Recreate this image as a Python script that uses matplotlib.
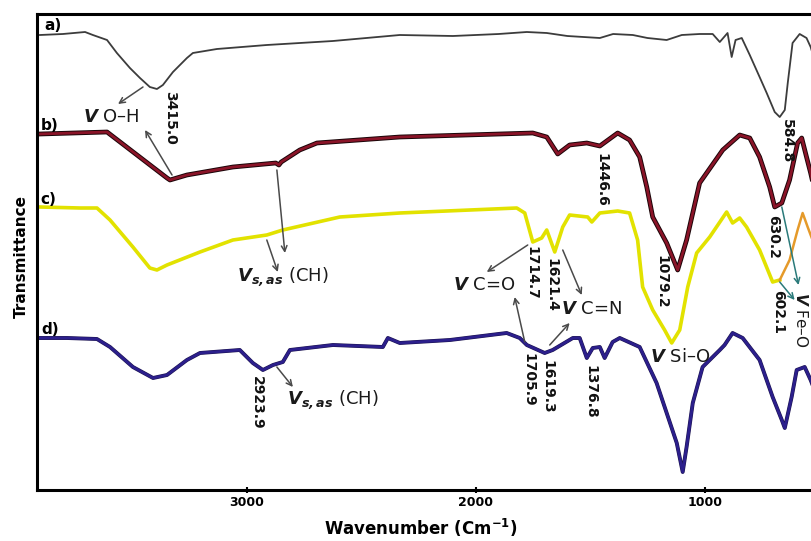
import matplotlib
matplotlib.use("Agg")
import matplotlib.pyplot as plt
import matplotlib.patheffects as pe

plt.rcParams['mathtext.fontset'] = 'dejavusans'

# FTIR spectra, wavenumber (cm-1) vs transmittance (a.u., stacked)
wn_a = [3904, 3804, 3707, 3673, 3611, 3568, 3511, 3467, 3424, 3393, 3367, 3323, 3262, 3236,
        3131, 2913, 2624, 2332, 2100, 1900, 1777, 1690, 1600, 1458, 1400, 1314, 1250, 1166,
        1100, 1022, 965, 934, 900, 882, 865, 838, 803, 760, 729, 694, 672, 650, 637, 616,
        585, 555, 537, 520]
t_a = [455, 456, 458, 455, 450, 437, 422, 412, 403, 401, 405, 418, 432, 437,
       441, 445, 449, 455, 454, 456, 458, 457, 454, 452, 456, 455, 452, 450,
       455, 456, 456, 448, 457, 433, 450, 452, 435, 413, 397, 378, 373, 380, 407, 447,
       456, 452, 443, 430]

wn_b = [3904, 3611, 3349, 3336, 3262, 3061, 2874, 2860, 2850, 2769, 2694, 2332, 1751, 1690,
        1642, 1590, 1515, 1458, 1380, 1328, 1284, 1253, 1227, 1166, 1118, 1079, 1022, 921,
        847, 803, 760, 716, 694, 663, 629, 594, 576, 555, 537, 520]
t_b = [356, 358, 312, 310, 315, 323, 327, 325, 328, 340, 347, 353, 357, 353,
       336, 345, 347, 344, 357, 350, 333, 303, 273, 247, 220, 250, 307, 340,
       355, 352, 333, 303, 283, 287, 310, 347, 352, 333, 317, 300]

wn_c = [3904, 3729, 3655, 3598, 3498, 3424, 3393, 3349, 3205, 3061, 2913, 2843, 2594, 2332,
        1821, 1786, 1751, 1712, 1690, 1655, 1620, 1590, 1511, 1493, 1458, 1380, 1328, 1293,
        1271, 1227, 1175, 1144, 1109, 1074, 1035, 978, 904, 878, 847, 817, 760, 703, 672]
t_c = [283, 282, 282, 270, 243, 222, 220, 225, 238, 250, 255, 260, 273, 277,
       282, 277, 248, 252, 260, 238, 263, 275, 273, 268, 277, 279, 277, 250,
       203, 180, 160, 147, 160, 203, 237, 253, 278, 267, 272, 263, 240, 208, 210]
# orange tail of trace c
wn_c2 = [672, 629, 594, 572, 550, 537, 520]
t_c2 = [210, 230, 260, 277, 263, 255, 245]

wn_d = [3904, 3786, 3655, 3598, 3498, 3410, 3349, 3262, 3205, 3031, 2974, 2930, 2886, 2843,
        2812, 2624, 2406, 2384, 2332, 2113, 1865, 1808, 1777, 1699, 1664, 1576, 1546, 1515,
        1489, 1458, 1437, 1402, 1371, 1284, 1210, 1166, 1122, 1096, 1079, 1052, 1009, 934,
        913, 878, 834, 760, 703, 663, 650, 620, 598, 563, 537, 520]
t_d = [152, 152, 151, 143, 123, 112, 115, 130, 137, 140, 127, 120, 125, 128,
       140, 145, 143, 152, 147, 150, 157, 152, 145, 137, 140, 152, 152, 132,
       142, 143, 132, 148, 152, 143, 107, 77, 47, 18, 43, 87, 123, 140,
       145, 157, 152, 130, 93, 70, 62, 93, 120, 123, 110, 100]

# peak labels: text, wavenumber, y
peak_labels = [("3415.0", 3336, 372), ("584.8", 642, 349), ("1446.6", 1450, 310),
               ("630.2", 703, 253), ("1079.2", 1188, 208), ("602.1", 681, 178),
               ("1714.7", 1755, 217), ("1621.4", 1668, 205), ("1705.9", 1768, 110),
               ("1619.3", 1686, 103), ("1376.8", 1498, 98), ("2923.9", 2956, 87)]

fig = plt.figure(figsize=(8.11, 5.41), dpi=100)
ax = fig.add_axes([37 / 811, 51 / 541, 805 / 811, 476 / 541])

ax.plot(wn_a, t_a, color='#3c3c3c', lw=1.3)
ax.plot(wn_b, t_b, color='#8a1428', lw=2.0,
        path_effects=[pe.Stroke(linewidth=3.4, foreground='#1a0508'), pe.Normal()])
ax.plot(wn_c, t_c, color='#e2e200', lw=2.6)
ax.plot(wn_c2, t_c2, color='#e59a2a', lw=1.8)
ax.plot(wn_d, t_d, color='#2c1f8c', lw=2.0,
        path_effects=[pe.Stroke(linewidth=2.8, foreground='#1c1450'), pe.Normal()])

for txt, x, y in peak_labels:
    ax.text(x, y, txt, rotation=-90, ha='center', va='center',
            fontsize=10, fontweight='bold', color='#111111')

# curve letters
for txt, x, y in [("a)", 3847, 464), ("b)", 3860, 365), ("c)", 3869, 290), ("d)", 3860, 160)]:
    ax.text(x, y, txt, ha='center', va='center', fontsize=11, fontweight='bold')

# band assignments
tk = dict(ha='center', va='center', fontsize=13, color='#1a1a1a')
ax.text(3594, 373, r"$\mathbfit{V}$ O–H", **tk)
ax.text(2843, 213, r"$\mathbfit{V}_{\mathbfit{s,as}}$ (CH)", **tk)
ax.text(1961, 205, r"$\mathbfit{V}$ C=O", **tk)
ax.text(1493, 181, r"$\mathbfit{V}$ C=N", **tk)
ax.text(2624, 90, r"$\mathbfit{V}_{\mathbfit{s,as}}$ (CH)", **tk)
ax.text(1109, 133, r"$\mathbfit{V}$ Si–O", **tk)
ax.text(578, 170, r"$\mathbfit{V}$ Fe–O", rotation=-90, ha='center', va='center',
        fontsize=11, color='#1a1a1a')

arrows = [((3454, 403), (3563, 386)), ((3327, 315), (3445, 360)), ((2869, 320), (2834, 237)),
          ((2913, 250), (2865, 218)), ((1773, 245), (1952, 218)), ((1620, 240), (1537, 195)),
          ((1786, 148), (1830, 193)), ((1677, 145), (1590, 167)), ((2869, 123), (2799, 103)),
          ((663, 283), (590, 205)), ((672, 208), (607, 190))]
for i, (tail, head) in enumerate(arrows):
    col = '#2a7a7a' if i >= 9 else '#4a4a4a'
    ax.annotate('', xy=head, xytext=tail,
                arrowprops=dict(arrowstyle='->', color=col, lw=1.1, shrinkA=0, shrinkB=0))

ax.set_xlim(3917, 400)
ax.set_ylim(0, 476)
ax.set_yticks([])
ax.set_xticks([3000, 2000, 1000])
ax.tick_params(axis='x', direction='inout', length=5, width=1.5, pad=2, labelsize=9)
for lab in ax.get_xticklabels():
    lab.set_fontweight('bold')
for s in ['top', 'bottom', 'left']:
    ax.spines[s].set_linewidth(2.2)
ax.spines['right'].set_visible(False)

fig.text(421 / 811, 1 - 528 / 541, r"Wavenumber (Cm$^{\mathbf{-1}}$)", ha='center', va='center',
         fontsize=12, fontweight='bold')
fig.text(21 / 811, 1 - 257 / 541, "Transmittance", rotation=90, ha='center', va='center',
         fontsize=11, fontweight='bold')

fig.savefig('out.png', dpi=100)
